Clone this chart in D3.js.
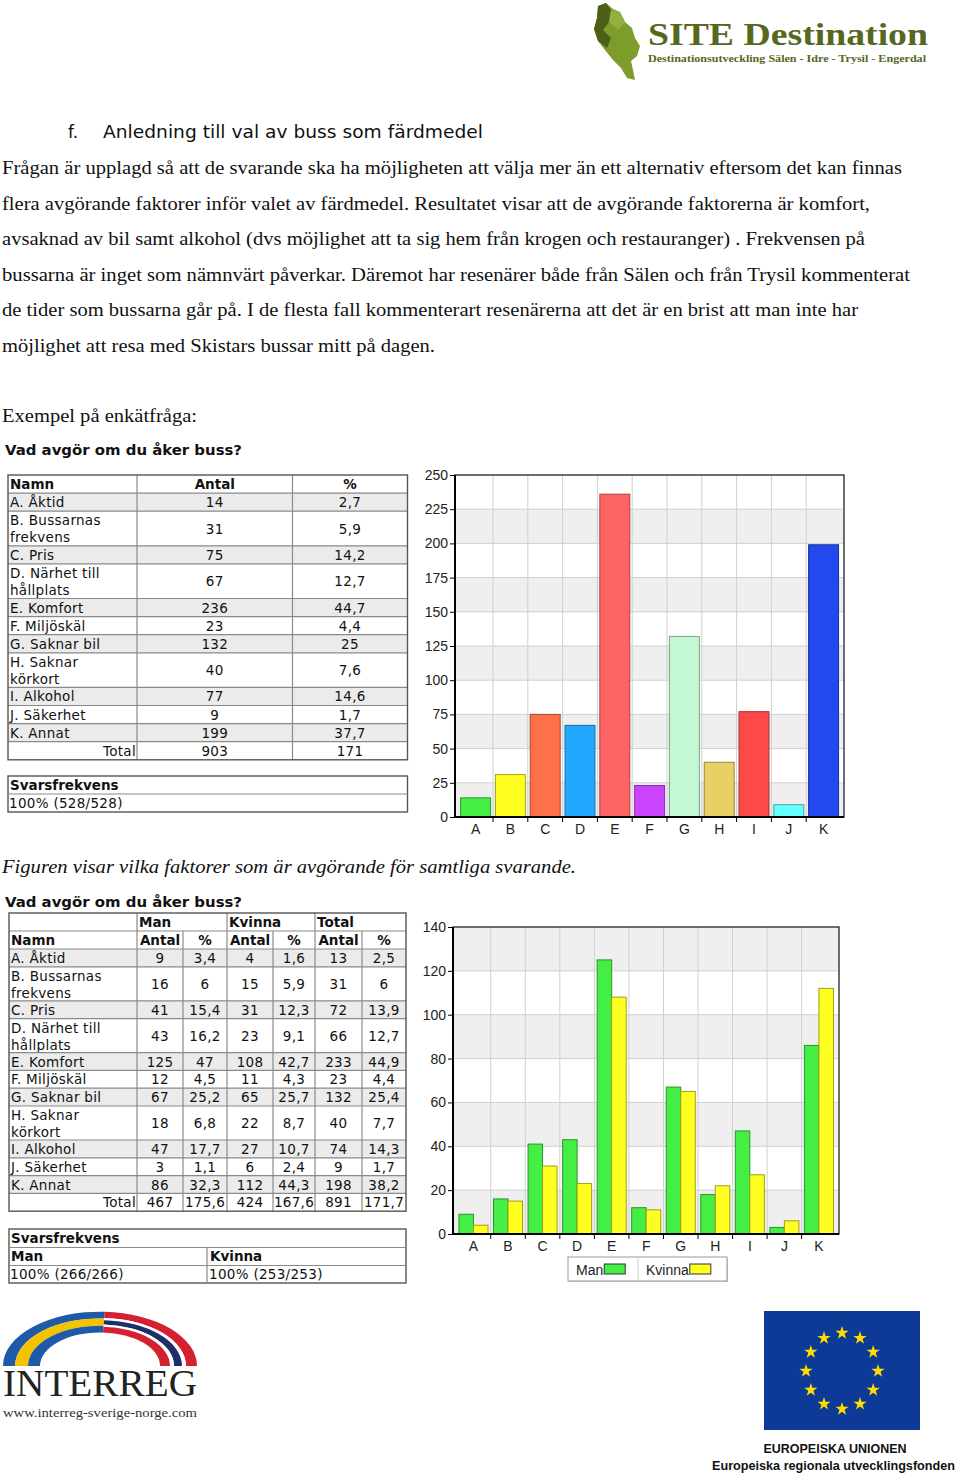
<!DOCTYPE html>
<html><head><meta charset="utf-8">
<script src="https://cdn.jsdelivr.net/npm/d3@7"></script>
<style>html,body{margin:0;padding:0;background:#fff;} svg{display:block}</style>
</head><body>
<svg id="page" width="960" height="1478"></svg>
<script>
// ---------- DATA ----------
const categories = ["A","B","C","D","E","F","G","H","I","J","K"];
const names = [["A. Åktid"],["B. Bussarnas","frekvens"],["C. Pris"],["D. Närhet till","hållplats"],["E. Komfort"],["F. Miljöskäl"],["G. Saknar bil"],["H. Saknar","körkort"],["I. Alkohol"],["J. Säkerhet"],["K. Annat"]];
const allAntal = [14,31,75,67,236,23,132,40,77,9,199];
const allPct = ["2,7","5,9","14,2","12,7","44,7","4,4","25","7,6","14,6","1,7","37,7"];
const allTotals = ["903","171"];
const manAntal = [9,16,41,43,125,12,67,18,47,3,86];
const manPct = ["3,4","6","15,4","16,2","47","4,5","25,2","6,8","17,7","1,1","32,3"];
const kvinnaAntal = [4,15,31,23,108,11,65,22,27,6,112];
const kvinnaPct = ["1,6","5,9","12,3","9,1","42,7","4,3","25,7","8,7","10,7","2,4","44,3"];
const sumAntal = [13,31,72,66,233,23,132,40,74,9,198];
const sumPct = ["2,5","6","13,9","12,7","44,9","4,4","25,4","7,7","14,3","1,7","38,2"];
const genderTotals = ["467","175,6","424","167,6","891","171,7"];
const yTicks1 = [0,25,50,75,100,125,150,175,200,225,250];
const yTicks2 = [0,20,40,60,80,100,120,140];
const barColors1 = ["#44ee44","#ffff22","#ff7048","#22a8ff","#ff6464","#cc44ff","#c4f8d4","#e8d066","#ff4848","#66ffff","#2248ee"];
const seriesNames = ["Man","Kvinna"];
const seriesColors = ["#44ee44","#ffff22"];

const bodyLines = [
 "Frågan är upplagd så att de svarande ska ha möjligheten att välja mer än ett alternativ eftersom det kan finnas",
 "flera avgörande faktorer inför valet av färdmedel. Resultatet visar att de avgörande faktorerna är komfort,",
 "avsaknad av bil samt alkohol (dvs möjlighet att ta sig hem från krogen och restauranger) . Frekvensen på",
 "bussarna är inget som nämnvärt påverkar. Däremot har resenärer både från Sälen och från Trysil kommenterat",
 "de tider som bussarna går på. I de flesta fall kommenterart resenärerna att det är en brist att man inte har",
 "möjlighet att resa med Skistars bussar mitt på dagen."
];
const bodyWidths = [900, 868, 863, 908, 856, 433];

// ---------- PAGE ----------
const svg = d3.select("#page");
const SERIF = "'Liberation Serif','Times New Roman',serif";
const VERD = "'DejaVu Sans',Verdana,sans-serif";
const ARIAL = "'Liberation Sans',Arial,sans-serif";
const TFS = 13.5;

// SITE logo
const logo = svg.append("g");
logo.append("path").attr("d","M598,6 L606,3 L613,9 L620,12 L625,22 L632,28 L635,38 L640,46 L637,56 L631,61 L633,70 L635,80 L627,78 L621,68 L613,60 L605,50 L598,41 L594,29 L597,18 Z").attr("fill","#7c9c2c");
logo.append("path").attr("d","M598,6 L606,3 L611,10 L609,22 L603,30 L611,38 L607,48 L598,41 L594,29 L597,18 Z").attr("fill","#4c5f16");
logo.append("path").attr("d","M611,10 L620,12 L625,22 L618,30 L609,22 Z").attr("fill","#96b040");
logo.append("text").attr("x",648).attr("y",45).attr("font-family",SERIF).attr("font-weight","bold").attr("font-size",31).attr("fill","#55681e").attr("textLength",280).attr("lengthAdjust","spacingAndGlyphs").text("SITE Destination");
logo.append("text").attr("x",648).attr("y",62).attr("font-family",SERIF).attr("font-weight","bold").attr("font-size",11).attr("fill","#55681e").attr("textLength",278).attr("lengthAdjust","spacingAndGlyphs").text("Destinationsutveckling Sälen - Idre - Trysil - Engerdal");

// Heading
svg.append("text").attr("x",68).attr("y",138).attr("font-family",VERD).attr("font-size",17).attr("fill","#111").text("f.");
svg.append("text").attr("x",103).attr("y",138).attr("font-family",VERD).attr("font-size",17).attr("fill","#111").attr("textLength",380).attr("lengthAdjust","spacingAndGlyphs").text("Anledning till val av buss som färdmedel");

bodyLines.forEach((t,i)=>{
  svg.append("text").attr("x",2).attr("y",174+i*35.5).attr("font-family",SERIF).attr("font-size",18.5).attr("fill","#111")
    .attr("textLength",bodyWidths[i]).attr("lengthAdjust","spacingAndGlyphs").text(t);
});
svg.append("text").attr("x",2).attr("y",422).attr("font-family",SERIF).attr("font-size",18.5).attr("fill","#111").attr("textLength",195).attr("lengthAdjust","spacingAndGlyphs").text("Exempel på enkätfråga:");

// ---------- TABLE HELPERS ----------
function txt(g,x,y,t,anchor,bold){
  return g.append("text").attr("x",x).attr("y",y).attr("font-family",VERD).attr("font-size",TFS)
   .attr("letter-spacing",bold?0:0.3)
   .attr("font-weight",bold?"bold":"normal").attr("text-anchor",anchor||"start").attr("fill","#111").text(t);
}
function hline(g,x0,x1,y,c){g.append("line").attr("x1",x0).attr("x2",x1).attr("y1",y).attr("y2",y).attr("stroke",c||"#8a8a8a").attr("stroke-width",1.2);}
function vline(g,x,y0,y1,c){g.append("line").attr("x1",x).attr("x2",x).attr("y1",y0).attr("y2",y1).attr("stroke",c||"#8a8a8a").attr("stroke-width",1.2);}
function title(y){
  svg.append("text").attr("x",5).attr("y",y).attr("font-family",VERD).attr("font-weight","bold").attr("font-size",14.5).attr("fill","#111")
   .attr("textLength",237).attr("lengthAdjust","spacingAndGlyphs").text("Vad avgör om du åker buss?");
}

// ---------- TABLE 1 ----------
title(455);
{
  const g = svg.append("g");
  const cx = [8,137,292.5,407.5];
  const S = 18.1, D = 34.6;
  let y = 475;
  txt(g,cx[0]+2,y+14,"Namn","start",true);
  txt(g,(cx[1]+cx[2])/2,y+14,"Antal","middle",true);
  txt(g,(cx[2]+cx[3])/2,y+14,"%","middle",true);
  y += S; hline(g,cx[0],cx[3],y);
  names.forEach((nm,i)=>{
    const h = nm.length>1 ? D : S;
    if(i%2===0) g.insert("rect",":first-child").attr("x",cx[0]).attr("y",y).attr("width",cx[3]-cx[0]).attr("height",h).attr("fill","#ebebeb");
    nm.forEach((l,j)=>txt(g,cx[0]+2,y+14+j*17,l,"start",false));
    const mid = y + h/2 + 5;
    txt(g,(cx[1]+cx[2])/2,mid,String(allAntal[i]),"middle");
    txt(g,(cx[2]+cx[3])/2,mid,allPct[i],"middle");
    y += h; hline(g,cx[0],cx[3],y);
  });
  txt(g,cx[1]-1,y+14,"Total","end");
  txt(g,(cx[1]+cx[2])/2,y+14,allTotals[0],"middle");
  txt(g,(cx[2]+cx[3])/2,y+14,allTotals[1],"middle");
  y += S;
  vline(g,cx[1],475,y); vline(g,cx[2],475,y);
  g.append("rect").attr("x",cx[0]).attr("y",475).attr("width",cx[3]-cx[0]).attr("height",y-475).attr("fill","none").attr("stroke","#555").attr("stroke-width",1.4);
  g.append("rect").attr("x",8).attr("y",776).attr("width",399.5).attr("height",36).attr("fill","none").attr("stroke","#555").attr("stroke-width",1.4);
  hline(g,8,407.5,794);
  txt(g,10,790,"Svarsfrekvens","start",true);
  txt(g,9,808,"100% (528/528)","start");
}

// ---------- CHART 1 ----------
{
  const g = svg.append("g");
  const X0=455, X1=844, Y0=817, Y1=475;
  const y = d3.scaleLinear().domain([0,250]).range([Y0,Y1]);
  const x = d3.scaleBand().domain(categories).range([458.2,841]).paddingInner(0.14).paddingOuter(0.07);
  for(let k=0;k<yTicks1.length-1;k++){
    if(k%2===0) g.append("rect").attr("x",X0).attr("width",X1-X0).attr("y",y(yTicks1[k+1])).attr("height",y(yTicks1[k])-y(yTicks1[k+1])).attr("fill","#efefef");
  }
  yTicks1.forEach(t=>{ if(t>0 && t<250) g.append("line").attr("x1",X0).attr("x2",X1).attr("y1",y(t)).attr("y2",y(t)).attr("stroke","#d0d0d0"); });
  const bnd = c => x(c) - x.step()*x.paddingInner()/2;
  categories.slice(1).forEach(c=>{ g.append("line").attr("x1",bnd(c)).attr("x2",bnd(c)).attr("y1",Y1).attr("y2",Y0).attr("stroke","#d0d0d0"); });
  g.selectAll("rect.bar").data(categories).enter().append("rect").attr("class","bar")
    .attr("x",c=>x(c)).attr("width",x.bandwidth()).attr("y",(c,i)=>y(allAntal[i])).attr("height",(c,i)=>Y0-y(allAntal[i]))
    .attr("fill",(c,i)=>barColors1[i]).attr("stroke",(c,i)=>d3.color(barColors1[i]).darker(1.2)).attr("stroke-width",1);
  g.append("rect").attr("x",X0).attr("y",Y1).attr("width",X1-X0).attr("height",Y0-Y1).attr("fill","none").attr("stroke","#222").attr("stroke-width",1.3);
  g.append("line").attr("x1",X0).attr("x2",X0).attr("y1",Y1).attr("y2",Y0).attr("stroke","#000").attr("stroke-width",2);
  g.append("line").attr("x1",X0).attr("x2",X1).attr("y1",Y0).attr("y2",Y0).attr("stroke","#000").attr("stroke-width",2);
  const ay = g.append("g").attr("transform",`translate(${X0},0)`).call(d3.axisLeft(y).tickValues(yTicks1).tickSize(5).tickPadding(2));
  ay.select(".domain").remove();
  ay.selectAll("text").attr("font-family",ARIAL).attr("font-size",14).attr("fill","#222");
  ay.selectAll("line").attr("stroke","#000");
  categories.slice(1).forEach(c=>{ g.append("line").attr("x1",bnd(c)).attr("x2",bnd(c)).attr("y1",Y0).attr("y2",Y0+5).attr("stroke","#000"); });
  const ax = g.append("g").attr("transform",`translate(0,${Y0})`).call(d3.axisBottom(x).tickSize(0).tickPadding(7));
  ax.select(".domain").remove();
  ax.selectAll("text").attr("font-family",ARIAL).attr("font-size",14).attr("fill","#222");
}

svg.append("text").attr("x",2).attr("y",873).attr("font-family",SERIF).attr("font-style","italic").attr("font-size",18.5).attr("fill","#111").attr("textLength",574).attr("lengthAdjust","spacingAndGlyphs").text("Figuren visar vilka faktorer som är avgörande för samtliga svarande.");

// ---------- TABLE 2 ----------
title(907);
{
  const g = svg.append("g");
  const cx = [9,137,183,227,273,315,362,406];
  const S = 17.8, D = 34;
  const top = 913;
  let y = top;
  txt(g,cx[1]+2,y+14,seriesNames[0],"start",true);
  txt(g,cx[3]+2,y+14,seriesNames[1],"start",true);
  txt(g,cx[5]+2,y+14,"Total","start",true);
  y += 18; hline(g,cx[0],cx[7],y);
  const h2top = y;
  txt(g,cx[0]+2,y+14,"Namn","start",true);
  for(let k=0;k<3;k++){
    txt(g,(cx[1+2*k]+cx[2+2*k])/2,y+14,"Antal","middle",true);
    txt(g,(cx[2+2*k]+cx[3+2*k])/2,y+14,"%","middle",true);
  }
  y += 18; hline(g,cx[0],cx[7],y);
  const cols = [manAntal.map(String),manPct,kvinnaAntal.map(String),kvinnaPct,sumAntal.map(String),sumPct];
  names.forEach((nm,i)=>{
    const h = nm.length>1 ? D : S;
    if(i%2===0) g.insert("rect",":first-child").attr("x",cx[0]).attr("y",y).attr("width",cx[7]-cx[0]).attr("height",h).attr("fill","#ebebeb");
    nm.forEach((l,j)=>txt(g,cx[0]+2,y+14+j*17,l,"start",false));
    const mid = y + h/2 + 5;
    cols.forEach((col,k)=>txt(g,(cx[k+1]+cx[k+2])/2,mid,col[i],"middle"));
    y += h; hline(g,cx[0],cx[7],y);
  });
  txt(g,cx[1]-1,y+14,"Total","end");
  genderTotals.forEach((t,k)=>txt(g,(cx[k+1]+cx[k+2])/2,y+14,t,"middle"));
  y += S;
  [1,3,5].forEach(k=>vline(g,cx[k],top,y));
  [2,4,6].forEach(k=>vline(g,cx[k],h2top,y));
  g.append("rect").attr("x",cx[0]).attr("y",top).attr("width",cx[7]-cx[0]).attr("height",y-top).attr("fill","none").attr("stroke","#555").attr("stroke-width",1.4);
  g.append("rect").attr("x",9).attr("y",1229).attr("width",397).attr("height",54).attr("fill","none").attr("stroke","#555").attr("stroke-width",1.4);
  hline(g,9,406,1247.5); hline(g,9,406,1265.5);
  vline(g,207,1247.5,1283);
  txt(g,11,1243,"Svarsfrekvens","start",true);
  txt(g,11,1261,seriesNames[0],"start",true);
  txt(g,210,1261,seriesNames[1],"start",true);
  txt(g,10,1279,"100% (266/266)","start");
  txt(g,209,1279,"100% (253/253)","start");
}

// ---------- CHART 2 ----------
{
  const g = svg.append("g");
  const X0=453, X1=839, Y0=1234, Y1=927;
  const y = d3.scaleLinear().domain([0,140]).range([Y0,Y1]);
  const x = d3.scaleBand().domain(categories).range([456.2,836.2]).paddingInner(0.16).paddingOuter(0.08);
  const xs = d3.scaleBand().domain(seriesNames).range([0,x.bandwidth()]);
  for(let k=0;k<yTicks2.length-1;k++){
    if(k%2===0) g.append("rect").attr("x",X0).attr("width",X1-X0).attr("y",y(yTicks2[k+1])).attr("height",y(yTicks2[k])-y(yTicks2[k+1])).attr("fill","#efefef");
  }
  yTicks2.forEach(t=>{ if(t>0 && t<140) g.append("line").attr("x1",X0).attr("x2",X1).attr("y1",y(t)).attr("y2",y(t)).attr("stroke","#d0d0d0"); });
  const bnd = c => x(c) - x.step()*x.paddingInner()/2;
  categories.slice(1).forEach(c=>{ g.append("line").attr("x1",bnd(c)).attr("x2",bnd(c)).attr("y1",Y1).attr("y2",Y0).attr("stroke","#d0d0d0"); });
  const vals = [manAntal,kvinnaAntal];
  seriesNames.forEach((s,si)=>{
    g.selectAll(null).data(categories).enter().append("rect")
      .attr("x",c=>x(c)+xs(s)).attr("width",xs.bandwidth()).attr("y",(c,i)=>y(vals[si][i])).attr("height",(c,i)=>Y0-y(vals[si][i]))
      .attr("fill",seriesColors[si]).attr("stroke",d3.color(seriesColors[si]).darker(1.3)).attr("stroke-width",1);
  });
  g.append("rect").attr("x",X0).attr("y",Y1).attr("width",X1-X0).attr("height",Y0-Y1).attr("fill","none").attr("stroke","#222").attr("stroke-width",1.3);
  g.append("line").attr("x1",X0).attr("x2",X0).attr("y1",Y1).attr("y2",Y0).attr("stroke","#000").attr("stroke-width",2);
  g.append("line").attr("x1",X0).attr("x2",X1).attr("y1",Y0).attr("y2",Y0).attr("stroke","#000").attr("stroke-width",2);
  const ay = g.append("g").attr("transform",`translate(${X0},0)`).call(d3.axisLeft(y).tickValues(yTicks2).tickSize(5).tickPadding(2));
  ay.select(".domain").remove();
  ay.selectAll("text").attr("font-family",ARIAL).attr("font-size",14).attr("fill","#222");
  ay.selectAll("line").attr("stroke","#000");
  categories.slice(1).forEach(c=>{ g.append("line").attr("x1",bnd(c)).attr("x2",bnd(c)).attr("y1",Y0).attr("y2",Y0+5).attr("stroke","#000"); });
  const ax = g.append("g").attr("transform",`translate(0,${Y0})`).call(d3.axisBottom(x).tickSize(0).tickPadding(7));
  ax.select(".domain").remove();
  ax.selectAll("text").attr("font-family",ARIAL).attr("font-size",14).attr("fill","#222");
  // legend
  const lg = g.append("g");
  lg.append("rect").attr("x",569).attr("y",1258).attr("width",159).attr("height",24).attr("fill","#ccc");
  lg.append("rect").attr("x",568).attr("y",1257).attr("width",159).attr("height",24).attr("fill","#fff").attr("stroke","#999");
  lg.append("line").attr("x1",638).attr("x2",638).attr("y1",1257).attr("y2",1281).attr("stroke","#ccc");
  const lx = [576,646];
  seriesNames.forEach((s,i)=>{
    const t = lg.append("text").attr("x",lx[i]).attr("y",1275).attr("font-family",ARIAL).attr("font-size",14).attr("fill","#222").text(s);
    const w = t.node().getComputedTextLength();
    lg.append("rect").attr("x",lx[i]+w+1).attr("y",1264).attr("width",21).attr("height",10).attr("fill",seriesColors[i]).attr("stroke","#333");
  });
}

// ---------- INTERREG LOGO ----------
{
  const g = svg.append("g").attr("transform","translate(100,1366) scale(1,0.56)");
  const arc = d3.arc();
  const left = [["#1f5aa8",97,85],["#f3c300",85,72],["#1f5aa8",72,60]];
  const right = [["#d42030",97,86],["#ffffff",86,82],["#1e2f6a",82,74],["#ffffff",74,70],["#d42030",70,60]];
  left.forEach(([c,o,i])=>g.append("path").attr("d",arc({innerRadius:i,outerRadius:o,startAngle:-Math.PI/2,endAngle:0.05})).attr("fill",c));
  right.forEach(([c,o,i])=>g.append("path").attr("d",arc({innerRadius:i,outerRadius:o,startAngle:0.05,endAngle:Math.PI/2})).attr("fill",c));
  svg.append("text").attr("x",3).attr("y",1396).attr("font-family",SERIF).attr("font-size",38).attr("fill","#222").attr("textLength",194).attr("lengthAdjust","spacingAndGlyphs").text("INTERREG");
  svg.append("text").attr("x",3).attr("y",1417).attr("font-family",SERIF).attr("font-size",12.5).attr("fill","#333").attr("textLength",194).attr("lengthAdjust","spacingAndGlyphs").text("www.interreg-sverige-norge.com");
}

// ---------- EU FLAG ----------
{
  const g = svg.append("g");
  g.append("rect").attr("x",764).attr("y",1311).attr("width",156).attr("height",119).attr("fill","#0c3a96");
  const star = d3.symbol().type(d3.symbolStar).size(55);
  for(let k=0;k<12;k++){
    const a = k*Math.PI/6;
    g.append("path").attr("d",star()).attr("fill","#ffdd00")
      .attr("transform",`translate(${842+36*Math.sin(a)},${1371-38*Math.cos(a)})`);
  }
  svg.append("text").attr("x",835).attr("y",1453).attr("text-anchor","middle").attr("font-family","'Liberation Sans',sans-serif").attr("font-weight","bold").attr("font-size",12.5).attr("fill","#111").attr("textLength",143).attr("lengthAdjust","spacingAndGlyphs").text("EUROPEISKA UNIONEN");
  svg.append("text").attr("x",712).attr("y",1470).attr("font-family","'Liberation Sans',sans-serif").attr("font-weight","bold").attr("font-size",12.5).attr("fill","#111").attr("textLength",243).attr("lengthAdjust","spacingAndGlyphs").text("Europeiska regionala utvecklingsfonden");
}
</script>
</body></html>
